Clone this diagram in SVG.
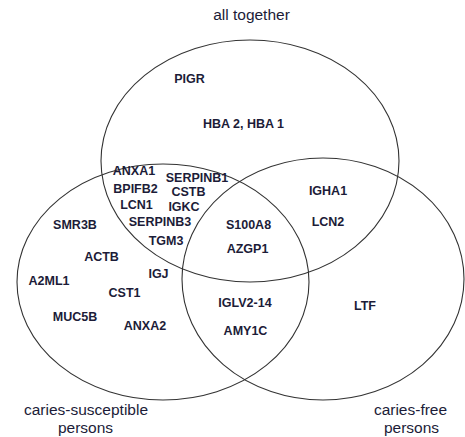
<svg xmlns="http://www.w3.org/2000/svg" width="465" height="437" viewBox="0 0 465 437">
<style>
.set{fill:none;stroke:#333;stroke-width:1.1}
.g{font-family:"Liberation Sans",Arial,sans-serif;font-size:12.5px;font-weight:bold;fill:#1c1c38;text-anchor:middle}
.t{font-family:"Liberation Sans",Arial,sans-serif;font-size:15.5px;fill:#1c1c38;text-anchor:middle}
</style>
<rect width="465" height="437" fill="#fff"/>
<g id="connectors">
<ellipse id="set-all" class="set" cx="250" cy="161" rx="149" ry="121"/>
<ellipse id="set-susceptible" class="set" cx="163" cy="282" rx="146" ry="118"/>
<ellipse id="set-free" class="set" cx="323" cy="279" rx="141" ry="121"/>
</g>
<g id="labels">
<text class="t" x="251.5" y="20">all together</text>
<text class="t" x="86" y="415">caries-susceptible</text>
<text class="t" x="85.5" y="433">persons</text>
<text class="t" x="410.5" y="415">caries-free</text>
<text class="t" x="411.5" y="433">persons</text>
</g>
<g id="genes">
<text class="g" x="189.5" y="83">PIGR</text>
<text class="g" x="243.5" y="128">HBA 2, HBA 1</text>
<text class="g" x="134" y="175">ANXA1</text>
<text class="g" x="197" y="182">SERPINB1</text>
<text class="g" x="135.5" y="193">BPIFB2</text>
<text class="g" x="188.5" y="196">CSTB</text>
<text class="g" x="136.5" y="209">LCN1</text>
<text class="g" x="184" y="211">IGKC</text>
<text class="g" x="160" y="226">SERPINB3</text>
<text class="g" x="166" y="245">TGM3</text>
<text class="g" x="75" y="229">SMR3B</text>
<text class="g" x="101.5" y="261">ACTB</text>
<text class="g" x="158.5" y="278">IGJ</text>
<text class="g" x="49" y="285">A2ML1</text>
<text class="g" x="124.5" y="297">CST1</text>
<text class="g" x="75" y="321">MUC5B</text>
<text class="g" x="145" y="330">ANXA2</text>
<text class="g" x="248.5" y="229">S100A8</text>
<text class="g" x="247.5" y="253">AZGP1</text>
<text class="g" x="328" y="195">IGHA1</text>
<text class="g" x="328" y="226">LCN2</text>
<text class="g" x="245" y="307">IGLV2-14</text>
<text class="g" x="245.5" y="335">AMY1C</text>
<text class="g" x="365" y="310">LTF</text>
</g>
</svg>
